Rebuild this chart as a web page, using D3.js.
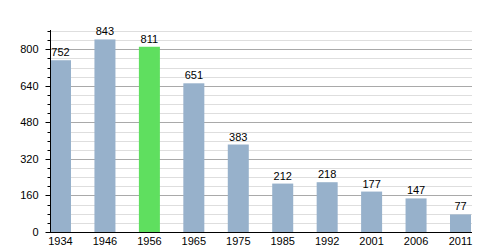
<!DOCTYPE html>
<html>
<head>
<meta charset="utf-8">
<script src="https://cdn.jsdelivr.net/npm/d3@7"></script>
<style>
  body { margin: 0; background: white; }
  svg text { font-family: "Liberation Sans", Arial, sans-serif; font-size: 11px; fill: #000; }
</style>
</head>
<body>
<div id="chart"></div>
<script>
const years = ["1934", "1946", "1956", "1965", "1975", "1985", "1992", "2001", "2006", "2011"];
const population = [752, 843, 811, 651, 383, 212, 218, 177, 147, 77];
const highlightYear = "1956";
const yMajorTicks = [0, 160, 320, 480, 640, 800];

const width = 500, height = 250;
const plot = { left: 50, right: 472, top: 31, bottom: 232 };
const barWidth = 21;

const svg = d3.select("#chart").append("svg")
  .attr("width", width)
  .attr("height", height);

const x = d3.scalePoint()
  .domain(years)
  .range([plot.left, 450]);

const y = d3.scaleLinear()
  .domain([0, 880])
  .range([plot.bottom, plot.top]);

const minorTicks = d3.range(0, 881, 40);

// grid lines
svg.append("g")
  .selectAll("line")
  .data(minorTicks.filter(d => d > 0))
  .join("line")
  .attr("x1", plot.left)
  .attr("x2", plot.right)
  .attr("y1", d => Math.round(y(d)) + 0.5)
  .attr("y2", d => Math.round(y(d)) + 0.5)
  .attr("stroke", d => d % 160 === 0 ? "#a9a9a9" : "#dedede")
  .attr("stroke-width", 1);

// bars
svg.append("g")
  .selectAll("rect")
  .data(years)
  .join("rect")
  .attr("x", d => x(d))
  .attr("y", (d, i) => y(population[i]))
  .attr("width", barWidth)
  .attr("height", (d, i) => y(0) - y(population[i]))
  .attr("fill", d => d === highlightYear ? "#5fdf5f" : "#97b1cb");

// value labels
svg.append("g")
  .selectAll("text")
  .data(years)
  .join("text")
  .attr("x", d => x(d) + barWidth / 2)
  .attr("y", (d, i) => y(population[i]) - 4)
  .attr("text-anchor", "middle")
  .text((d, i) => population[i]);

// y axis with minor ticks
const yAxisG = svg.append("g").attr("transform", `translate(${plot.left + 0.5},0)`);
yAxisG.append("line")
  .attr("y1", plot.top - 1)
  .attr("y2", plot.bottom)
  .attr("stroke", "#000");
yAxisG.selectAll(".minor")
  .data(minorTicks)
  .join("line")
  .attr("class", "minor")
  .attr("x1", d => d % 160 === 0 ? -5 : -3)
  .attr("x2", 0)
  .attr("y1", d => Math.round(y(d)) + 0.5)
  .attr("y2", d => Math.round(y(d)) + 0.5)
  .attr("stroke", "#000");
yAxisG.selectAll("text")
  .data(yMajorTicks)
  .join("text")
  .attr("x", -12)
  .attr("y", d => y(d) + 4)
  .attr("text-anchor", "end")
  .text(d => d);

// x axis
svg.append("line")
  .attr("x1", plot.left)
  .attr("x2", plot.right)
  .attr("y1", plot.bottom + 0.5)
  .attr("y2", plot.bottom + 0.5)
  .attr("stroke", "#000");

svg.append("g")
  .selectAll("text")
  .data(years)
  .join("text")
  .attr("x", d => x(d) + barWidth / 2)
  .attr("y", plot.bottom + 13)
  .attr("text-anchor", "middle")
  .text(d => d);
</script>
</body>
</html>
